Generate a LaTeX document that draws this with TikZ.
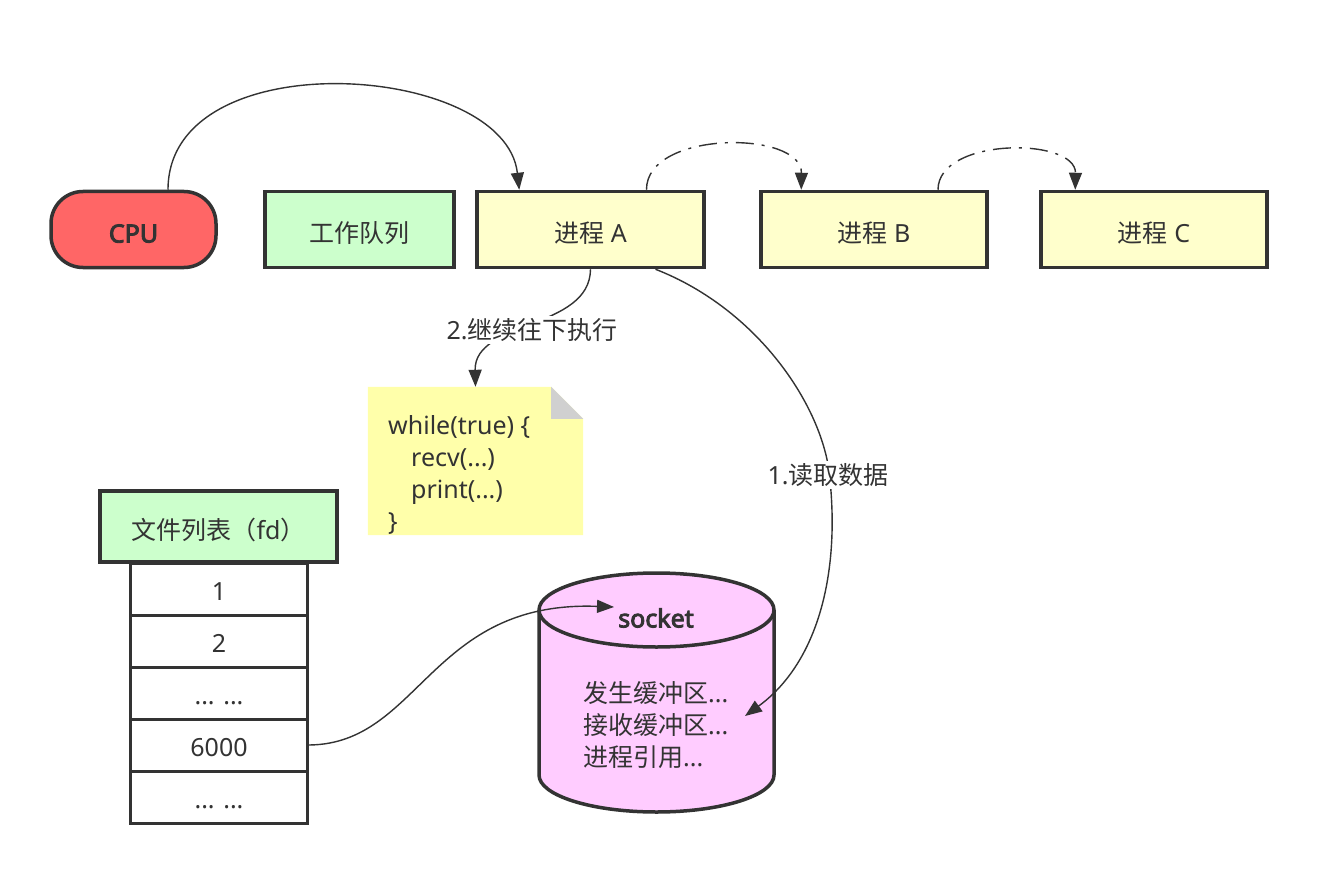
\documentclass[tikz,border=0pt]{standalone}
\usepackage{fontspec}
\setmainfont{Noto Sans}
\newfontfamily\cjk{Noto Sans CJK SC}
\newfontfamily\heavy{Noto Sans}[FakeBold=3.6]
\usetikzlibrary{arrows.meta,calc}
\definecolor{ink}{HTML}{333333}
\definecolor{cpufill}{HTML}{FF6666}
\definecolor{greenfill}{HTML}{CCFFCC}
\definecolor{yellowfill}{HTML}{FFFFCC}
\definecolor{notefill}{HTML}{FFFFAA}
\definecolor{foldfill}{HTML}{D0D0D0}
\definecolor{sockfill}{HTML}{FFCCFF}
\tikzset{
  lbl/.style={text=ink, font=\fontsize{25}{32}\selectfont, inner sep=0pt},
  boldlbl/.style={font=\fontsize{25}{32}\selectfont\heavy},
  boxnode/.style={lbl, draw=ink, line width=3.5pt, minimum height=76pt, text height=28pt, text depth=2pt},
  rownode/.style={lbl, draw=ink, line width=3pt, minimum width=177pt, minimum height=52pt, text height=24.5pt, text depth=2pt},
  conn/.style={draw=ink, line width=1.4pt, -{Triangle[length=17pt,width=13pt]}},
  dashconn/.style={conn, dash pattern=on 18pt off 8pt on 3pt off 8pt},
  edgelabel/.style={lbl, fill=white, inner sep=2pt},
}
\begin{document}
\begin{tikzpicture}[x=1pt,y=-1pt]
\useasboundingbox[fill=white] (0,0) rectangle (1318,872);

% top row
\node[boxnode, boldlbl, fill=cpufill, minimum width=165pt, rounded corners=32pt] (cpu) at (133.5,229.5) {CPU};
\node[boxnode, fill=greenfill, minimum width=189pt] (queue) at (359.5,229.5) {\cjk 工作队列};
\node[boxnode, fill=yellowfill, minimum width=227pt] (pa) at (590.5,229.5) {{\cjk 进程} A};
\node[boxnode, fill=yellowfill, minimum width=226pt] (pb) at (874,229.5) {{\cjk 进程} B};
\node[boxnode, fill=yellowfill, minimum width=226pt] (pc) at (1154,229.5) {{\cjk 进程} C};

% note
\node[minimum width=215pt, minimum height=148pt, inner sep=0pt] (notebox) at (475.5,461) {};
\fill[notefill] (notebox.north west) -- ($(notebox.north east)+(-32,0)$) -- ($(notebox.north east)+(0,32)$) -- (notebox.south east) -- (notebox.south west) -- cycle;
\fill[foldfill] ($(notebox.north east)+(-32,0)$) -- ($(notebox.north east)+(-32,32)$) -- ($(notebox.north east)+(0,32)$) -- cycle;
\node[lbl, align=left, anchor=west] (notetext) at (388,475)
  {while(true) \{\\\hspace*{23pt}recv(...)\\\hspace*{23pt}print(...)\\\}};

% file table
\node[boxnode, fill=greenfill, minimum width=237pt, minimum height=71pt] (thead) at (218.5,526.5) {{\cjk 文件列表（}fd{\cjk ）}};
\node[rownode] (r1) at (219,589) {1};
\node[rownode] (r2) at (219,641) {2};
\node[rownode] (r3) at (219,693) {... ...};
\node[rownode] (r4) at (219,745) {6000};
\node[rownode] (r5) at (219,797) {... ...};

% socket cylinder
\filldraw[fill=sockfill, draw=ink, line width=3.5pt]
  (539,610) -- (539,775) arc[start angle=180, end angle=360, x radius=117.5pt, y radius=37pt]
  -- (774,610) arc[start angle=0, end angle=180, x radius=117.5pt, y radius=37pt] -- cycle;
\draw[ink, line width=3.5pt] (539,610) arc[start angle=180, end angle=360, x radius=117.5pt, y radius=37pt];
\node[lbl, boldlbl] (socktitle) at (656,618) {socket};
\node[lbl, align=left, anchor=west] (sockbody) at (583,725)
  {{\cjk 发生缓冲区}...\\{\cjk 接收缓冲区}...\\{\cjk 进程引用}...};
\coordinate (rxtip) at (745,716);
\coordinate (fdtip) at ($(socktitle.west)+(-4,-11)$);

% connectors
\draw[conn] ($(cpu.north)+(34.5,0)$) .. controls (168,40) and (505,62) .. ($(pa.north west)+(44,0)$);
\draw[dashconn] ($(pa.north)+(56,0)$) .. controls (646,130) and (802,130) .. ($(pb.north west)+(42,0)$);
\draw[dashconn] ($(pb.north)+(64,0)$) .. controls (938,137) and (1076,137) .. ($(pc.north west)+(36,0)$);

\draw[conn] (pa.south) .. controls (590,330) and (474,320) .. (notebox.north);
\node[edgelabel] (lbl2) at (532,330) {2.{\cjk 继续往下执行}};

\draw[conn] ($(pa.south)+(65,0)$) .. controls (760,310) and (825,410) .. (830,480)
  .. controls (840,580) and (815,665) .. (rxtip);
\node[edgelabel] (lbl1) at (828,475) {1.{\cjk 读取数据}};

\draw[conn] (r4.east) .. controls (420,744) and (430,600) .. (fdtip);
\end{tikzpicture}
\end{document}
